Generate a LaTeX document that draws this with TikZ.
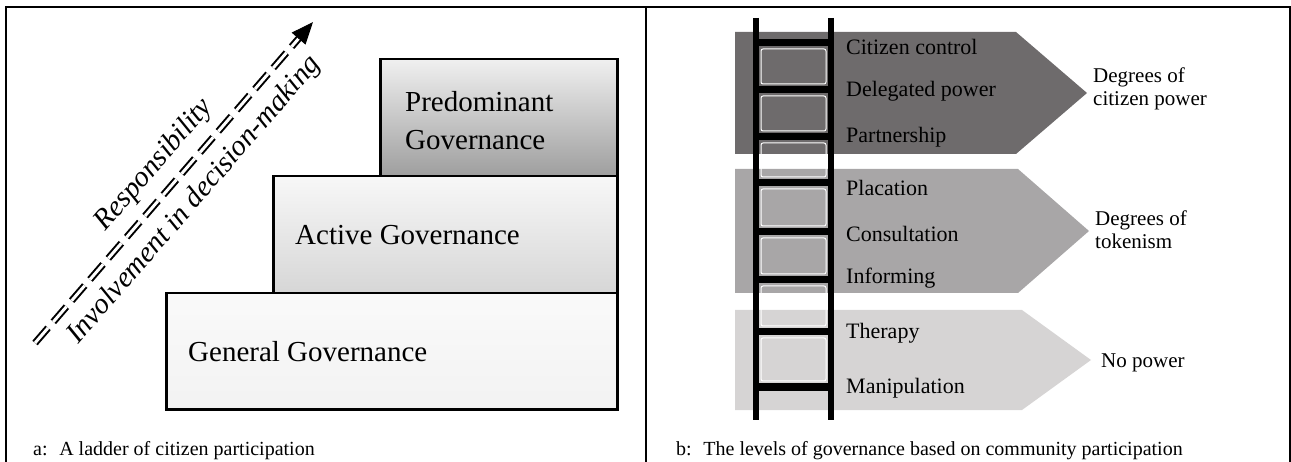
\documentclass[tikz,border=0pt]{standalone}
\usepackage{fontspec}
\setmainfont{Liberation Serif}
\usepackage{xcolor}
\usetikzlibrary{arrows.meta,calc}

\definecolor{powerband}{RGB}{110,107,108}
\definecolor{tokenband}{RGB}{168,166,167}
\definecolor{nopowerband}{RGB}{214,212,212}

\begin{document}
\begin{tikzpicture}[x=1pt,y=-1pt,
    govbox/.style={draw, line width=2.5pt, anchor=north west, inner sep=0pt},
    govtext/.style={anchor=west, inner sep=0pt, align=left, font=\fontsize{29}{38}\selectfont},
    rungtext/.style={anchor=west, inner sep=0pt, font=\fontsize{22}{26}\selectfont},
    degtext/.style={anchor=west, inner sep=0pt, align=left, font=\fontsize{21}{23}\selectfont},
    captext/.style={anchor=base west, inner sep=0pt, font=\fontsize{20}{22}\selectfont},
    slanttext/.style={sloped, inner sep=0pt, font=\itshape\fontsize{29}{30}\selectfont},
    dblline/.style={double, double distance=3pt, line width=2pt, dash pattern=on 20pt off 8pt},
    rail/.style={line width=6pt},
    rung/.style={line width=7pt}]
    \useasboundingbox (0,0) rectangle (1291,462);

    % frame and divider
    \draw[line width=1.5pt] (6,462) |- (1290,7) -- (1290,462);
    \draw[line width=1.5pt] (646,7) -- (646,462);

    % a: the three levels
    \node[govbox, top color=black!2, bottom color=black!5, minimum width=451pt, minimum height=116pt] (general) at (165,292) {};
    \node[govbox, top color=black!3, bottom color=black!16, minimum width=344pt, minimum height=117pt] (active) at (272,175) {};
    \node[govbox, top color=black!6, bottom color=black!38, minimum width=237pt, minimum height=117pt] (predom) at (379,58) {};
    \node[govtext] (generaltxt) at ([xshift=23pt]general.west) {General Governance};
    \node[govtext] (activetxt) at ([xshift=23pt]active.west) {Active Governance};
    \node[govtext] (predomtxt) at ([xshift=26pt,yshift=-3pt]predom.west) {Predominant\\Governance};

    \coordinate (tail) at (35,343);
    \coordinate (tip) at (313,22);
    \draw[dblline] (tail) -- ($(tip)!16pt!(tail)$)
      node[slanttext, pos=0.52, above=12pt] (resp) {Responsibility}
      node[slanttext, pos=0.52, below=13pt] (involve) {Involvement in decision-making};
    \draw[line width=1pt, -{Triangle[length=22pt,width=18pt]}] ($(tip)!22pt!(tail)$) -- (tip);

    % b: the eight rungs
    \fill[powerband] (735,32) -- (1016,32) -- (1087,93) -- (1016,154) -- (735,154) -- cycle;
    \fill[tokenband] (735,169) -- (1018,169) -- (1089,231) -- (1018,293) -- (735,293) -- cycle;
    \fill[nopowerband] (735,310) -- (1022,310) -- (1091,360) -- (1022,410) -- (735,410) -- cycle;

    \foreach \a/\b in {43/90,90/137,137/183,183/232,232/280,280/332,332/387}
      \draw[white, line width=1pt, rounded corners=2pt] (761,{\a+6}) rectangle (826,{\b-6});
    \draw[rail] (756,18) -- (756,420);
    \draw[rail] (831,18) -- (831,420);
    \foreach \y in {43,90,137,183,232,280,332,387}
      \draw[rung] (756,\y) -- (831,\y);

    \foreach \y/\t/\n in {47/Citizen control/citizen, 91/Delegated power/delegated,
        137/Partnership/partner, 188/Placation/placation, 234/Consultation/consult,
        278/Informing/inform, 333/Therapy/therapy, 388/Manipulation/manip}
      \node[rungtext] (\n) at (846,\y) {\t};

    \node[degtext] (citpower) at (1093,89) {Degrees of\\citizen power};
    \node[degtext] (tokenism) at (1095,230) {Degrees of\\tokenism};
    \node[degtext] (nopower) at (1101,363) {No power};

    % captions
    \node[captext] (capa) at (33,455) {a:~ A ladder of citizen participation};
    \node[captext] (capb) at (676,455) {b:~ The levels of governance based on community participation};
  \end{tikzpicture}
\end{document}
